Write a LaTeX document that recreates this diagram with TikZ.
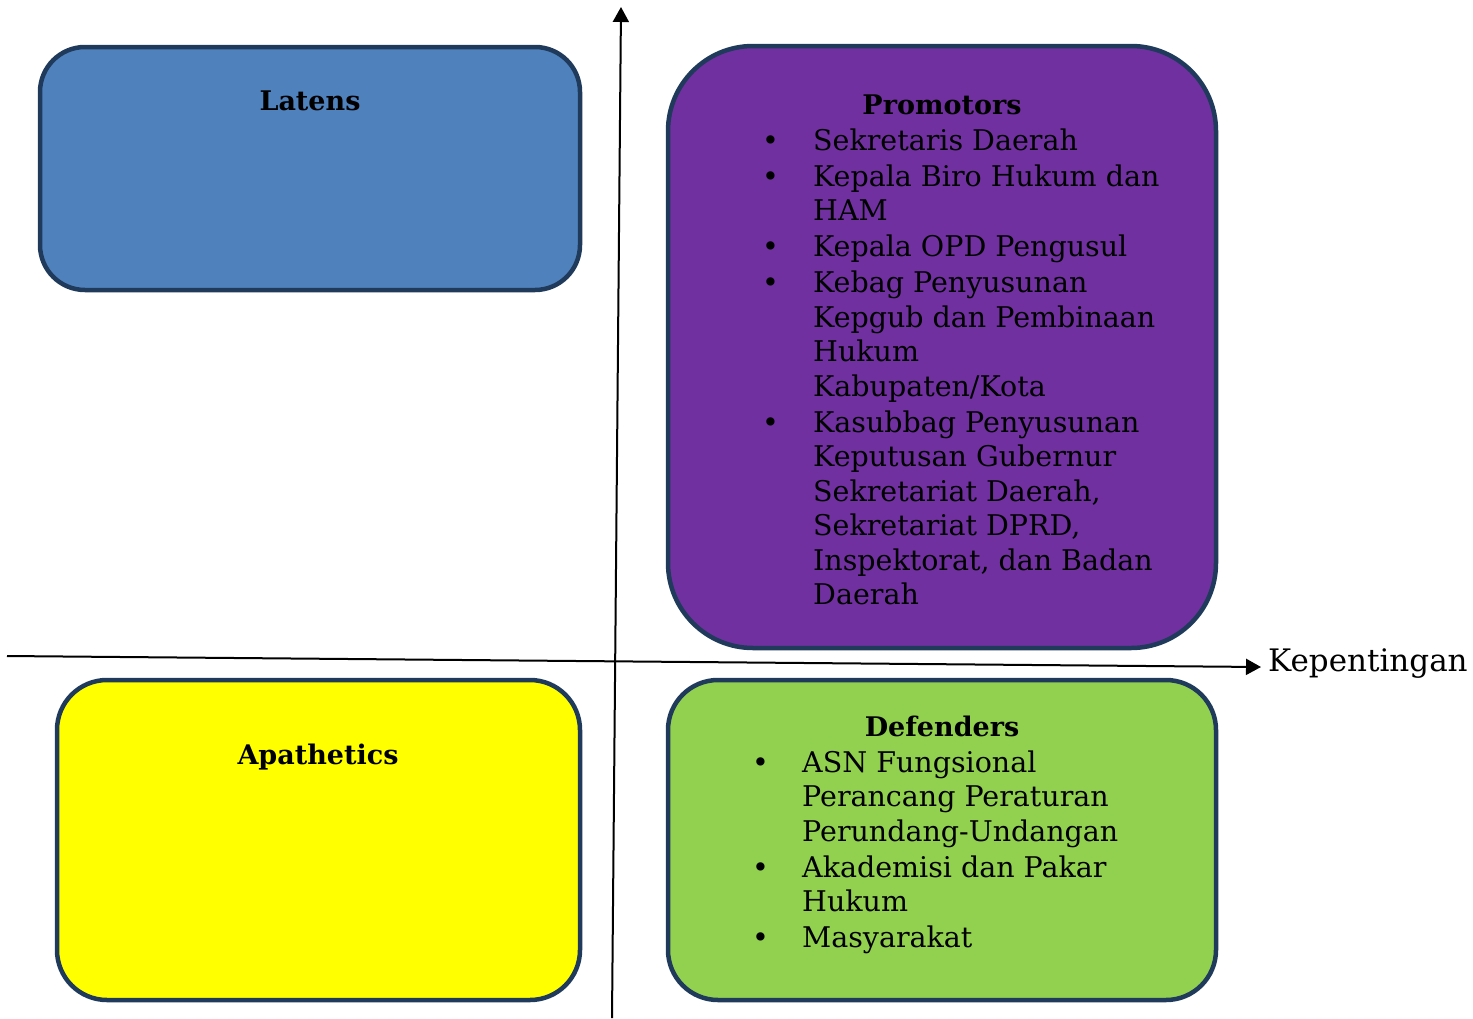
\documentclass[tikz,border=0pt]{standalone}
\usepackage{fontspec}
\setmainfont{DejaVu Serif}
\usetikzlibrary{arrows.meta}
\definecolor{edgec}{HTML}{1F3A5A}
\definecolor{latc}{HTML}{4F81BD}
\definecolor{proc}{HTML}{7030A0}
\definecolor{apac}{HTML}{FFFF00}
\definecolor{defc}{HTML}{92D050}
\newcommand{\bul}{\textbullet}
\begin{document}
\begin{tikzpicture}[x=1pt,y=-1pt,
  quad/.style={draw=edgec,line width=4.5pt},
  body/.style={font=\fontsize{28.5}{34.5}\selectfont, inner sep=0pt, anchor=base west},
  head/.style={font=\fontsize{27}{34}\selectfont\bfseries, inner sep=0pt, anchor=base},
  axis/.style={line width=2pt, -{Triangle[length=15pt,width=16pt]}}]
\useasboundingbox (0,0) rectangle (1473,1018);
% boxes
\node[quad, fill=latc, rounded corners=45pt, minimum width=540pt, minimum height=243pt] (latens) at (310,168.5) {};
\node[quad, fill=proc, rounded corners=85pt, minimum width=548pt, minimum height=602pt] (promo) at (942,347) {};
\node[quad, fill=apac, rounded corners=50pt, minimum width=523pt, minimum height=320pt] (apa) at (318.5,840) {};
\node[quad, fill=defc, rounded corners=50pt, minimum width=548pt, minimum height=320pt] (def) at (942,840) {};
% axes
\coordinate (ybot) at (612,1018);
\coordinate (ytop) at (621,7);
\coordinate (xleft) at (7,656);
\coordinate (xright) at (1261,667);
\draw[axis] (ybot) -- (ytop);
\draw[axis] (xleft) -- (xright);
\node[body, font=\fontsize{31}{38}\selectfont] (kep) at (1268,671) {Kepentingan};
% headings
\node[head] (hlat) at (310,110) {Latens};
\node[head] (hpro) at (942,114) {Promotors};
\node[head] (hapa) at (318,764) {Apathetics};
\node[head] (hdef) at (942,736) {Defenders};
% promotors list
\node[body] (lpro) at (762,150) {\begin{tabular}[t]{@{}p{51pt}@{}l@{}}
\bul & Sekretaris Daerah\\[1.5pt]
\bul & Kepala Biro Hukum dan\\
 & HAM\\[1.5pt]
\bul & Kepala OPD Pengusul\\[1.5pt]
\bul & Kebag Penyusunan\\
 & Kepgub dan Pembinaan\\
 & Hukum\\
 & Kabupaten/Kota\\[1.5pt]
\bul & Kasubbag Penyusunan\\
 & Keputusan Gubernur\\
 & Sekretariat Daerah,\\
 & Sekretariat DPRD,\\
 & Inspektorat, dan Badan\\
 & Daerah
\end{tabular}};
% defenders list
\node[body] (ldef) at (752,772) {\begin{tabular}[t]{@{}p{50pt}@{}l@{}}
\bul & ASN Fungsional\\
 & Perancang Peraturan\\
 & Perundang-Undangan\\[1.5pt]
\bul & Akademisi dan Pakar\\
 & Hukum\\[1.5pt]
\bul & Masyarakat
\end{tabular}};
\end{tikzpicture}
\end{document}
